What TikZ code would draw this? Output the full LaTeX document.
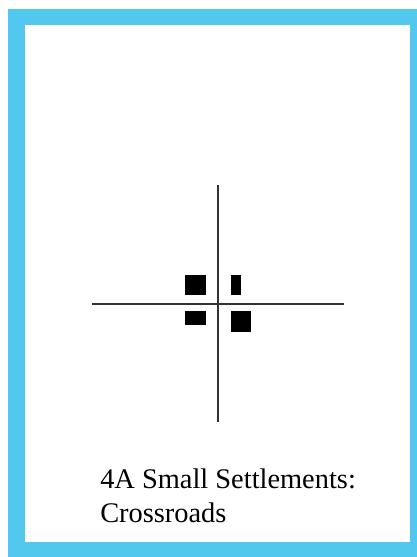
\documentclass[tikz,border=0pt]{standalone}
\usepackage{fontspec}
\setmainfont{Liberation Serif}
\definecolor{frameblue}{RGB}{82,200,238}
\definecolor{roadgray}{RGB}{50,50,50}
\tikzset{
  road/.style={draw=roadgray, line width=1.5pt},
  house/.style={fill=black}
}
\begin{document}
\begin{tikzpicture}[x=0.75pt, y=-0.75pt, line join=round, line cap=butt]
	\useasboundingbox (0,0) rectangle (417,557);
	% card frame
	\fill[frameblue] (8,9) rectangle (417,557);
	\fill[white] (25,25) rectangle (410,542);
	% crossroads
	\draw[road] (218,185)--(218,422) (92,304)--(344,304);
	\fill[house] (185,275) rectangle (206,295);
	\fill[house] (231,275) rectangle (241,295);
	\fill[house] (185,311) rectangle (206,325);
	\fill[house] (231,311) rectangle (251,332);
	% caption
	\node[anchor=base west, align=left, inner sep=0pt, font=\fontsize{21.3}{25.5}\selectfont] (title) at (100,522) {4A Small Settlements:\\Crossroads};
\end{tikzpicture}
\end{document}
